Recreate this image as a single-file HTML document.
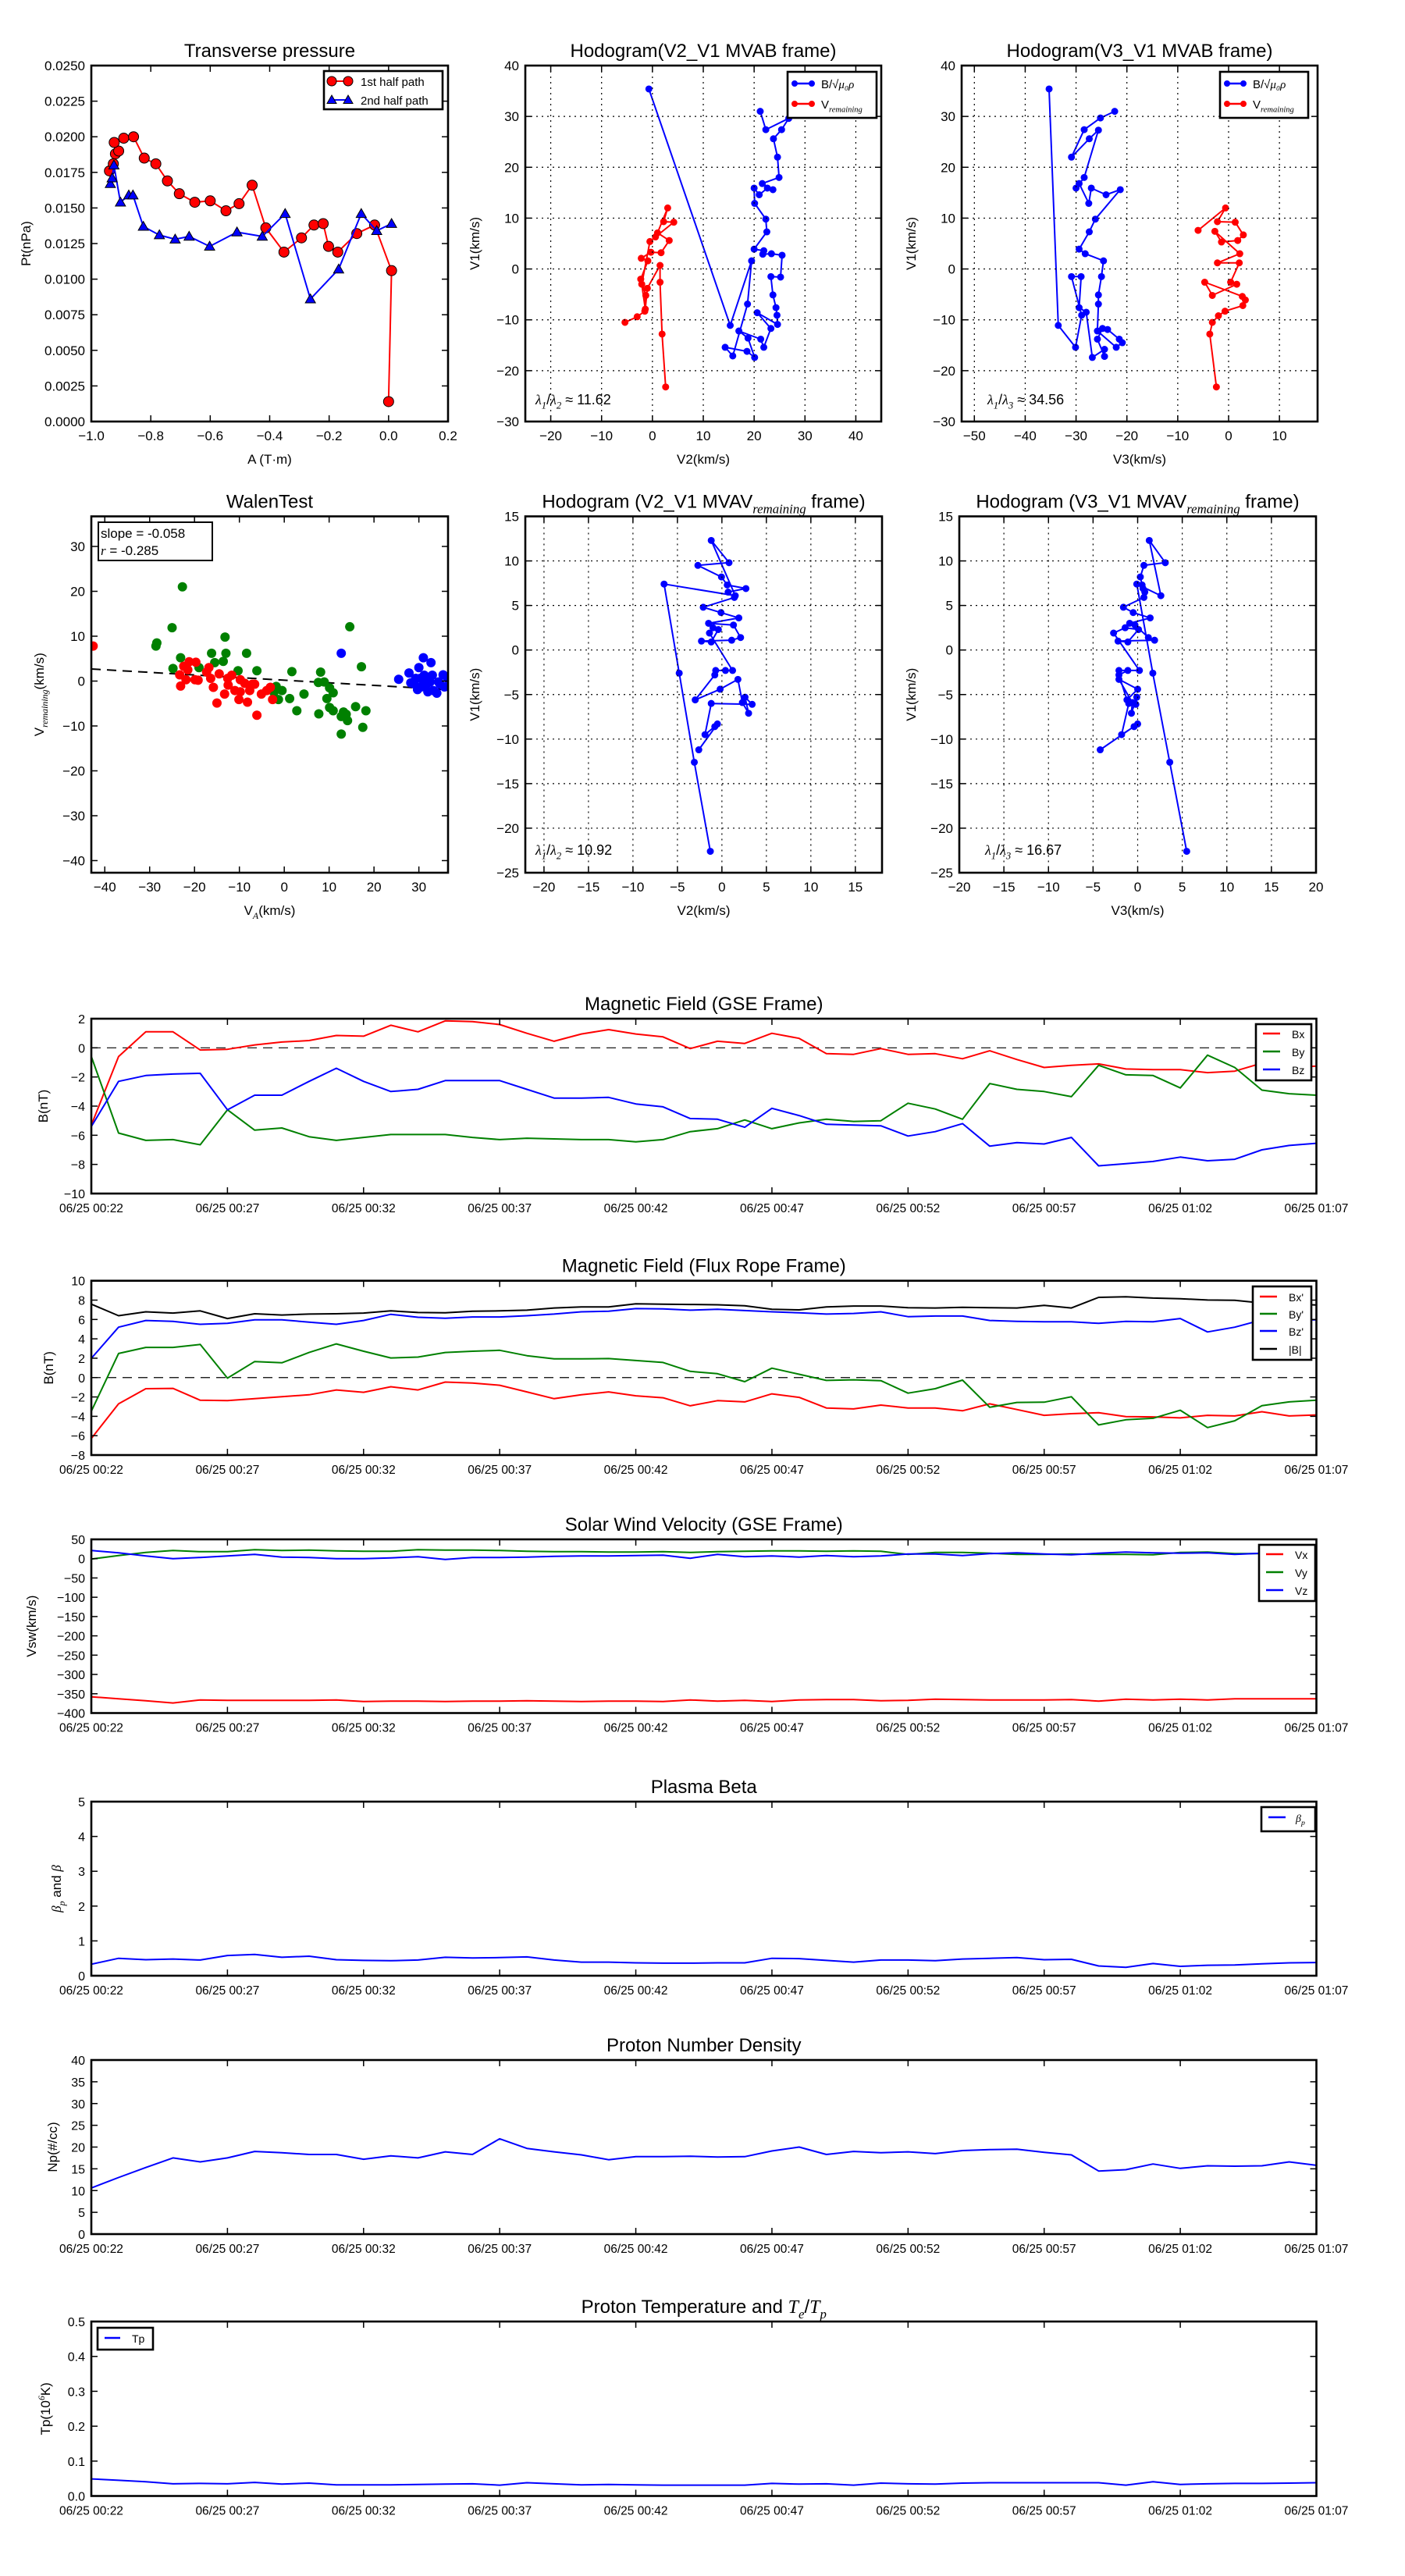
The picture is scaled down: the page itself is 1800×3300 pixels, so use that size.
<!DOCTYPE html>
<html><head><meta charset="utf-8"><title>Flux rope analysis</title>
<style>
html,body{margin:0;padding:0;background:#fff;}
svg{display:block;font-family:"Liberation Sans",sans-serif;}
</style></head>
<body>
<svg id="fig" xmlns="http://www.w3.org/2000/svg" width="1800" height="3300" viewBox="0 0 1800 3300">
<rect x="0" y="0" width="1800" height="3300" fill="#fff"/>
<defs id="defs"></defs>
</svg>
<script>
// ---------- data ----------
const tMin = [0,1,2,3,4,5,6,7,8,9,10,11,12,13,14,15,16,17,18,19,20,21,22,23,24,25,26,27,28,29,30,31,32,33,34,35,36,37,38,39,40,41,42,43,44,45];
const timeTicks = [0,5,10,15,20,25,30,35,40,45];
const timeTickLabels = ['06/25 00:22','06/25 00:27','06/25 00:32','06/25 00:37','06/25 00:42','06/25 00:47','06/25 00:52','06/25 00:57','06/25 01:02','06/25 01:07'];

const gseBx = [-5.3,-0.6,1.1,1.1,-0.15,-0.1,0.2,0.4,0.5,0.85,0.8,1.55,1.1,1.85,1.8,1.6,1.0,0.45,0.95,1.25,0.95,0.75,-0.05,0.45,0.3,1.0,0.65,-0.4,-0.45,-0.05,-0.45,-0.4,-0.75,-0.2,-0.8,-1.35,-1.2,-1.1,-1.45,-1.5,-1.5,-1.7,-1.6,-1.05,-1.35,-1.25];
const gseBy = [-0.6,-5.85,-6.35,-6.3,-6.65,-4.25,-5.65,-5.5,-6.1,-6.35,-6.15,-5.95,-5.95,-5.95,-6.15,-6.3,-6.2,-6.25,-6.3,-6.3,-6.45,-6.3,-5.75,-5.55,-4.95,-5.55,-5.15,-4.9,-5.05,-5.0,-3.8,-4.2,-4.9,-2.45,-2.85,-3.0,-3.35,-1.2,-1.85,-1.9,-2.75,-0.5,-1.35,-2.9,-3.15,-3.25];
const gseBz = [-5.4,-2.3,-1.9,-1.8,-1.75,-4.25,-3.25,-3.25,-2.3,-1.4,-2.3,-3.0,-2.85,-2.25,-2.25,-2.25,-2.85,-3.45,-3.45,-3.4,-3.85,-4.05,-4.85,-4.9,-5.45,-4.15,-4.65,-5.25,-5.3,-5.35,-6.05,-5.75,-5.2,-6.75,-6.5,-6.6,-6.15,-8.1,-7.95,-7.8,-7.5,-7.75,-7.65,-7.0,-6.7,-6.55];

const frBx = [-6.28,-2.71,-1.15,-1.12,-2.34,-2.38,-2.18,-1.98,-1.78,-1.28,-1.52,-0.95,-1.28,-0.46,-0.56,-0.79,-1.48,-2.18,-1.78,-1.48,-1.88,-2.08,-2.91,-2.38,-2.51,-1.68,-2.04,-3.14,-3.24,-2.84,-3.14,-3.14,-3.43,-2.71,-3.3,-3.9,-3.73,-3.63,-4.03,-4.06,-4.16,-3.9,-3.96,-3.53,-3.96,-3.86];
const frBy = [-3.47,2.49,3.12,3.12,3.42,-0.06,1.66,1.53,2.59,3.48,2.72,2.03,2.12,2.59,2.72,2.82,2.26,1.93,1.93,1.96,1.76,1.56,0.64,0.4,-0.42,0.97,0.34,-0.29,-0.23,-0.32,-1.61,-1.15,-0.26,-3.07,-2.57,-2.54,-1.98,-4.89,-4.36,-4.2,-3.37,-5.16,-4.46,-2.9,-2.51,-2.34];
const frBz = [1.99,5.2,5.9,5.8,5.5,5.6,5.96,5.96,5.73,5.5,5.9,6.53,6.23,6.13,6.26,6.26,6.39,6.56,6.79,6.86,7.12,7.09,6.96,7.05,6.92,6.79,6.69,6.56,6.62,6.79,6.29,6.36,6.36,5.9,5.8,5.76,5.76,5.6,5.8,5.76,6.1,4.71,5.2,5.96,5.96,5.96];
const frBmag = [7.58,6.39,6.79,6.66,6.89,6.1,6.59,6.46,6.56,6.59,6.66,6.89,6.72,6.69,6.86,6.89,6.96,7.19,7.29,7.29,7.62,7.58,7.55,7.52,7.42,7.05,6.99,7.29,7.39,7.39,7.22,7.19,7.25,7.22,7.19,7.45,7.19,8.28,8.35,8.21,8.15,8.01,7.98,7.7,7.6,7.5];

const vx = [-358,-363,-368,-374,-366,-367,-367,-367,-367,-366,-370,-369,-369,-370,-369,-369,-368,-369,-370,-369,-369,-370,-366,-369,-367,-370,-366,-365,-365,-368,-367,-364,-365,-366,-366,-366,-365,-369,-364,-366,-364,-366,-363,-363,-363,-363];
const vy = [-1,8,16,21,18,18,23,21,22,20,19,19,23,22,22,21,19,18,18,17,17,18,16,18,19,20,20,19,20,19,11,16,16,14,11,11,12,11,11,10,16,17,13,13,15,16];
const vz = [21,15,7,0,3,7,11,4,3,0,0,2,5,-2,3,3,4,6,7,7,8,9,1,11,5,7,4,8,5,7,12,12,8,13,15,12,10,14,17,15,14,15,11,14,15,15];

const betaP = [0.33,0.5,0.46,0.48,0.45,0.58,0.61,0.53,0.56,0.46,0.44,0.43,0.45,0.53,0.51,0.52,0.54,0.45,0.39,0.39,0.37,0.36,0.36,0.37,0.37,0.5,0.49,0.44,0.39,0.45,0.45,0.43,0.48,0.5,0.52,0.46,0.47,0.28,0.24,0.35,0.27,0.3,0.31,0.34,0.37,0.38];
const density = [10.6,13.0,15.3,17.5,16.6,17.5,19.0,18.7,18.3,18.3,17.2,18.0,17.5,18.9,18.3,21.9,19.7,18.9,18.2,17.1,17.8,17.8,17.9,17.7,17.8,19.1,20.0,18.3,19.0,18.7,18.9,18.5,19.2,19.4,19.5,18.8,18.2,14.5,14.8,16.1,15.1,15.7,15.6,15.7,16.6,15.8];
const tempP = [0.049,0.045,0.041,0.035,0.036,0.035,0.039,0.034,0.037,0.032,0.032,0.032,0.033,0.034,0.035,0.031,0.038,0.035,0.032,0.033,0.032,0.031,0.031,0.031,0.031,0.036,0.034,0.035,0.031,0.037,0.035,0.034,0.037,0.038,0.038,0.038,0.038,0.038,0.031,0.041,0.033,0.035,0.036,0.036,0.037,0.038];

const pt1A = [-0.939,-0.926,-0.919,-0.908,-0.923,-0.891,-0.858,-0.822,-0.783,-0.744,-0.704,-0.652,-0.6,-0.547,-0.503,-0.459,-0.413,-0.352,-0.293,-0.251,-0.22,-0.202,-0.171,-0.107,-0.047,0.01,0.0];
const pt1P = [0.0176,0.0181,0.0188,0.0190,0.0196,0.0199,0.0200,0.0185,0.0181,0.0169,0.0160,0.0154,0.0155,0.0148,0.0153,0.0166,0.0136,0.0119,0.0129,0.0138,0.0139,0.0123,0.0119,0.0132,0.0138,0.0106,0.0014];
const pt2A = [-0.936,-0.93,-0.924,-0.902,-0.874,-0.86,-0.825,-0.771,-0.718,-0.671,-0.602,-0.51,-0.425,-0.348,-0.263,-0.168,-0.092,-0.04,0.01];
const pt2P = [0.0167,0.0171,0.0180,0.0154,0.0159,0.0159,0.0137,0.0131,0.0128,0.0130,0.0123,0.0133,0.0130,0.0146,0.0086,0.0107,0.0146,0.0134,0.0139];

const h1BV2 = [-0.7,15.3,19.5,18.7,15.8,14.3,18.6,20.1,18.8,17.0,21.3,21.9,23.3,20.6,24.6,24.5,24.3,23.7,23.3,25.2,25.5,23.4,21.7,21.9,20.0,22.5,22.3,20.1,20.0,21.0,22.6,23.7,21.6,24.9,24.6,23.8,25.4,26.8,22.3,21.2];
const h1BV1 = [35.4,-11.1,1.6,-6.9,-17.1,-15.4,-16.2,-17.4,-13.6,-12.2,-13.8,-15.4,-11.7,-8.6,-10.9,-9.1,-7.6,-5.1,-1.5,-1.6,2.7,3.0,2.9,3.6,3.9,7.3,9.8,12.9,15.9,14.6,15.9,15.6,16.8,18.0,22.0,25.6,27.4,29.6,27.4,31.0];
const h1RV2 = [-5.4,-3.0,-1.5,-1.3,-2.3,-0.9,-2.2,-0.3,1.7,3.3,1.0,3.0,2.2,4.2,0.6,-0.5,-2.1,-1.4,-1.0,1.5,1.5,1.9,2.6];
const h1RV1 = [-10.5,-9.4,-8.3,-5.2,-2.0,1.6,2.1,3.3,3.2,5.6,7.1,12.0,9.3,9.2,6.3,5.4,-3.0,-7.9,-3.8,0.7,-2.6,-12.8,-23.2];
const h2BV3 = [-35.3,-33.5,-30.1,-28.9,-30.9,-29,-29.4,-28,-26.8,-24.4,-24.4,-25.8,-24.8,-23.8,-21.5,-20.9,-22.1,-25.8,-25.6,-25.6,-25,-24.6,-28.2,-29.4,-27.4,-26.2,-21.3,-24.1,-27,-27.5,-29.4,-30,-28.4,-25.6,-27.4,-30.9,-28.4,-25.2,-22.4];
const h2BV1 = [35.4,-11.1,-15.4,-9.1,-1.5,-1.5,-7.6,-8.5,-17.4,-15.8,-17.2,-13.8,-11.7,-11.9,-13.8,-14.5,-15.4,-12.2,-6.9,-5.1,-1.5,1.6,3.0,3.9,7.3,9.8,15.6,14.6,15.9,12.9,16.8,15.9,18,27.3,25.6,22,27.4,29.7,31.0];
const h2RV3 = [-6.0,-0.6,-2.2,1.3,2.9,1.8,-1.4,-2.7,2.2,-2.2,2.1,0.4,1.6,-3.2,-4.7,2.7,3.3,2.8,-0.7,-2.0,-3.2,-3.7,-2.4];
const h2RV1 = [7.6,12,9.3,9.2,6.7,5.6,5.3,7.4,3.0,1.2,1.2,-2.6,-3.0,-5.2,-2.6,-5.4,-6.1,-7.2,-8.3,-9.2,-10.5,-12.8,-23.2];

const mvV1 = [-22.6,-12.6,-2.6,7.4,6.1,12.3,9.8,9.5,8.2,7.3,6.9,6.5,5.9,4.8,4.2,3.6,3.0,2.8,1.4,1.1,1.0,0.9,2.3,2.5,1.9,-2.3,-2.3,-2.3,-2.8,-5.6,-4.4,-3.3,-5.9,-7.1,-5.3,-6.1,-6.0,-9.5,-8.6,-8.3,-11.2];
const mvV2 = [-1.3,-3.1,-4.8,-6.5,1.5,-1.2,0.8,-2.7,-0.05,0.6,2.7,0.7,1.4,-2.1,-0.1,1.9,-1.5,1.3,2.1,1.1,-2.3,-1.2,-0.4,-1.0,-1.4,1.2,0.4,-0.7,-0.8,-3.0,-0.2,1.8,2.3,3.0,2.6,3.4,-1.2,-1.9,-0.8,-0.5,-2.6];
const mvV3 = [5.5,3.6,1.7,-0.1,2.6,1.3,3.1,0.7,0.3,0.5,0.6,0.8,0.7,-1.6,-0.5,1.4,-0.9,-0.3,1.2,1.9,-2.2,-1.1,0.1,-1.4,-2.7,0.2,-2.1,-1.1,-2.1,-1.2,0.0,-2.1,-0.6,-0.7,-0.1,-0.2,-1.0,-1.8,-0.4,0.0,-4.2];

const walGreenVA = [-22.7,-25.0,-28.4,-28.6,-23.1,-24.8,-19.0,-16.2,-15.5,-13.2,-13.0,-13.6,-10.3,-8.4,-6.1,-1.8,-0.5,-1.3,1.2,-2.3,1.7,2.8,4.4,8.1,7.6,8.9,9.5,10.1,10.9,7.7,10.1,10.9,12.7,13.2,13.8,14.1,12.7,14.6,15.9,17.2,17.5,18.2];
const walGreenVR = [21.0,11.9,8.5,7.8,5.2,2.8,3.0,6.2,4.1,9.8,6.2,4.4,2.3,6.2,2.3,-1.2,-2.1,-4.1,-3.9,-2.5,2.1,-6.6,-2.9,2.0,-0.3,-0.2,-3.9,-1.5,-2.6,-7.3,-5.9,-6.6,-7.9,-6.9,-7.4,-8.8,-11.8,12.1,-5.7,3.2,-10.3,-6.6];
const walRedVA = [-42.6,-23.3,-23.1,-22.4,-21.5,-21.2,-19.7,-21.9,-19.9,-19.2,-17.3,-16.8,-16.4,-15.8,-15.0,-14.5,-13.3,-12.6,-12.5,-11.7,-11.0,-10.1,-9.8,-9.8,-8.8,-8.2,-7.7,-7.1,-6.6,-6.1,-5.1,-3.9,-3.1,-2.6];
const walRedVR = [7.8,1.4,-1.1,3.3,2.5,4.3,4.2,0.3,0.3,0.2,2.0,3.0,0.6,-1.4,-4.9,1.6,-2.9,0.6,-0.9,1.3,-2.1,-4.1,0.3,-2.4,-0.5,-4.7,-2.1,-0.7,-0.7,-7.6,-2.9,-2.1,-1.4,-4.1];
const walBlueVA = [12.7,25.5,27.8,28.2,29.7,30.0,30.3,31.0,31.2,31.7,32.0,32.7,33.0,33.2,34.0,34.4,35.4,35.7,36.4,34.7,29.3,28.9,30.5,32.5,31.6];
const walBlueVR = [6.2,0.4,1.8,-0.4,-1.9,3.0,0.6,5.2,1.3,-0.7,-2.4,4.1,1.3,-2.1,-2.7,-0.2,1.4,-1.3,0.6,-0.7,0.6,-0.6,-1.3,-0.2,0.3];
const walenSlope = -0.058;
const walenIntercept = 0.2;

// ---------- helpers ----------
const NS = 'http://www.w3.org/2000/svg';
const svg = document.getElementById('fig');
const defs = document.getElementById('defs');
const MINUS = '\u2212';
function mk(tag, attrs, parent){
  const e = document.createElementNS(NS, tag);
  for (const k in attrs) e.setAttribute(k, attrs[k]);
  (parent || svg).appendChild(e);
  return e;
}
function fmt(v, d){ const s = Math.abs(v).toFixed(d); return (v < 0 ? MINUS : '') + s; }
let clipId = 0;

function makeAxes(name, box, xd, yd){
  const g = mk('g', {});
  
  
  const sx = v => box.x0 + (v - xd[0]) / (xd[1] - xd[0]) * (box.x1 - box.x0);
  const sy = v => box.y1 - (v - yd[0]) / (yd[1] - yd[0]) * (box.y1 - box.y0);
  clipId++;
  const cp = mk('clipPath', {id: 'clip' + clipId}, defs);
  mk('rect', {x: box.x0, y: box.y0, width: box.x1 - box.x0, height: box.y1 - box.y0}, cp);
  const data = mk('g', {'clip-path': 'url(#clip' + clipId + ')'}, g);
  
  
  return {g, data, sx, sy, box};
}
function drawFrame(ax){
  const b = ax.box;
  const r = mk('rect', {x: b.x0, y: b.y0, width: b.x1 - b.x0, height: b.y1 - b.y0, fill: 'none', stroke: '#000', 'stroke-width': 2.6}, ax.g);
  
  
}
function xTicks(ax, vals, labels, grid, fs){
  const b = ax.box;
  vals.forEach((v, i) => {
    const x = ax.sx(v);
    if (grid) {
      const gl = mk('line', {x1: x, x2: x, y1: b.y0, y2: b.y1, stroke: '#000', 'stroke-width': 1.2, 'stroke-dasharray': '2,5'}, ax.g);
      
      
    }
    const t1 = mk('line', {x1: x, x2: x, y1: b.y1, y2: b.y1 - 8, stroke: '#000', 'stroke-width': 1.5}, ax.g);
    
    
    const t2 = mk('line', {x1: x, x2: x, y1: b.y0, y2: b.y0 + 8, stroke: '#000', 'stroke-width': 1.5}, ax.g);
    
    
    const lb = mk('text', {x: x, y: b.y1 + 24, 'text-anchor': 'middle', 'font-size': fs || 17}, ax.g);
    lb.textContent = labels[i];
    
    
  });
}
function yTicks(ax, vals, labels, grid, fs){
  const b = ax.box;
  vals.forEach((v, i) => {
    const y = ax.sy(v);
    if (grid) {
      const gl = mk('line', {x1: b.x0, x2: b.x1, y1: y, y2: y, stroke: '#000', 'stroke-width': 1.2, 'stroke-dasharray': '2,5'}, ax.g);
      
      
    }
    const t1 = mk('line', {x1: b.x0, x2: b.x0 + 8, y1: y, y2: y, stroke: '#000', 'stroke-width': 1.5}, ax.g);
    
    
    const t2 = mk('line', {x1: b.x1, x2: b.x1 - 8, y1: y, y2: y, stroke: '#000', 'stroke-width': 1.5}, ax.g);
    
    
    const lb = mk('text', {x: b.x0 - 8, y: y + 6, 'text-anchor': 'end', 'font-size': fs || 17}, ax.g);
    lb.textContent = labels[i];
    
    
  });
}
// parts: strings or {t, sub, sup, it}; offsets computed in px from base font size
function addParts(t, parts, fs){
  if (typeof parts === 'string') { t.textContent = parts; return; }
  let cur = 0;
  parts.forEach(p => {
    const s = mk('tspan', {}, t);
    let target = 0;
    if (typeof p === 'string') { s.textContent = p; }
    else {
      s.textContent = p.t;
      if (p.sub || p.sup) {
        s.setAttribute('font-size', (fs * 0.7).toFixed(1));
        s.setAttribute('font-style', 'italic');
        s.setAttribute('font-family', '"Liberation Serif",serif');
        target = p.sup ? -0.4 * fs : 0.3 * fs;
      }
      if (p.it) { s.setAttribute('font-style', 'italic'); s.setAttribute('font-family', '"Liberation Serif",serif'); }
    }
    const d = target - cur;
    if (Math.abs(d) > 0.01) s.setAttribute('dy', d.toFixed(1));
    cur = target;
  });
}
function title(ax, parts, fs){
  fs = fs || 24;
  const b = ax.box;
  const t = mk('text', {x: (b.x0 + b.x1) / 2, y: b.y0 - 11, 'text-anchor': 'middle', 'font-size': fs}, ax.g);
  addParts(t, parts, fs);
  
  
}
function xLabel(ax, parts, dy){
  const b = ax.box;
  const t = mk('text', {x: (b.x0 + b.x1) / 2, y: b.y1 + (dy || 54), 'text-anchor': 'middle', 'font-size': 17}, ax.g);
  addParts(t, parts, 17);
  
  
}
function yLabel(ax, parts, cx){
  const b = ax.box;
  const cy = (b.y0 + b.y1) / 2;
  const t = mk('text', {x: cx, y: cy + 6, 'text-anchor': 'middle', 'font-size': 17, transform: 'rotate(-90 ' + cx + ' ' + cy + ')'}, ax.g);
  addParts(t, parts, 17);
  
  
}
function series(ax, xs, ys, color, name, opts){
  opts = opts || {};
  const pts = xs.map((x, i) => ax.sx(x).toFixed(1) + ',' + ax.sy(ys[i]).toFixed(1)).join(' ');
  const pl = mk('polyline', {points: pts, fill: 'none', stroke: color, 'stroke-width': opts.w || 2, 'stroke-linejoin': 'round'}, ax.data);
  
  
  if (opts.marker) {
    xs.forEach((x, i) => {
      const cx = ax.sx(x), cy = ax.sy(ys[i]);
      let m;
      if (opts.marker === 'tri') {
        const r = opts.r;
        m = mk('polygon', {points: cx + ',' + (cy - r) + ' ' + (cx - r) + ',' + (cy + r * 0.75) + ' ' + (cx + r) + ',' + (cy + r * 0.75), fill: color, stroke: '#000', 'stroke-width': 1}, ax.data);
      } else {
        m = mk('circle', {cx: cx, cy: cy, r: opts.r, fill: color, stroke: opts.edge || color, 'stroke-width': 1}, ax.data);
      }
      
      
    });
  }
}
function legend(ax, x0, y0, w, h, entries, fs, markerKind){
  fs = fs || 16;
  const lg = mk('g', {}, ax.g);
  
  
  const r = mk('rect', {x: x0, y: y0, width: w, height: h, fill: '#fff', stroke: '#000', 'stroke-width': 2.6}, lg);
  
  
  entries.forEach(en => {
    const ln = mk('line', {x1: en.lx0, x2: en.lx1, y1: en.y, y2: en.y, stroke: en.color, 'stroke-width': en.w || 2.5}, lg);
    
    
    if (en.marker) {
      [en.lx0, en.lx1].forEach(mx => {
        let m;
        if (en.marker === 'tri') m = mk('polygon', {points: mx + ',' + (en.y - en.r) + ' ' + (mx - en.r) + ',' + (en.y + en.r * 0.75) + ' ' + (mx + en.r) + ',' + (en.y + en.r * 0.75), fill: en.color, stroke: '#000'}, lg);
        else m = mk('circle', {cx: mx, cy: en.y, r: en.r, fill: en.color, stroke: en.edge || en.color}, lg);
        
        
      });
    }
    const t = mk('text', {x: en.tx, y: en.y + 6, 'font-size': fs}, lg);
    addParts(t, en.label, fs);
    
    
  });
}
function rangeTicks(a, b, step){ const out = []; for (let v = a; v <= b + 1e-9; v += step) out.push(Math.round(v / step) * step); return out; }
function annot(ax, x, y, parts, fs){
  fs = fs || 19;
  const t = mk('text', {x: x, y: y, 'font-size': fs}, ax.g);
  addParts(t, parts, fs);
  
  
}
function lamParts(a, b, val){ return [{t: '\u03bb', it: true}, {t: a, sub: true}, '/', {t: '\u03bb', it: true}, {t: b, sub: true}, ' \u2248 ' + val]; }

// ---------- Transverse pressure ----------
(function(){
  const ax = makeAxes('transverse-pressure-chart', {x0: 117, x1: 574, y0: 84, y1: 540}, [-1, 0.2], [0, 0.025]);
  const yt = rangeTicks(0, 0.025, 0.0025);
  yTicks(ax, yt, yt.map(v => v.toFixed(4)), false);
  const xt = rangeTicks(-1, 0.2, 0.2);
  xTicks(ax, xt, xt.map(v => fmt(v, 1)), false);
  series(ax, pt1A, pt1P, '#ff0000', 'first-half-path', {marker: 'circle', r: 6.5, edge: '#000'});
  series(ax, pt2A, pt2P, '#0000ff', 'second-half-path', {marker: 'tri', r: 6.5});
  drawFrame(ax);
  title(ax, 'Transverse pressure');
  xLabel(ax, 'A (T\u00b7m)');
  yLabel(ax, 'Pt(nPa)', 33);
  legend(ax, 415, 91, 152, 49, [
    {lx0: 425, lx1: 446, y: 104, color: '#ff0000', marker: 'circle', r: 6, edge: '#000', tx: 462, label: '1st half path', w: 2},
    {lx0: 425, lx1: 446, y: 128, color: '#0000ff', marker: 'tri', r: 6, tx: 462, label: '2nd half path', w: 2}
  ], 15);
})();

const hodoLegendB = ['B/\u221a', {t: '\u03bc\u2080\u03c1', it: true}];
const hodoLegendV = ['V', {t: 'remaining', sub: true}];

// ---------- Hodogram V2_V1 MVAB ----------
(function(){
  const ax = makeAxes('hodogram-v2-v1-mvab-chart', {x0: 673, x1: 1129, y0: 84, y1: 540}, [-25, 45], [-30, 40]);
  const xt = rangeTicks(-20, 40, 10);
  xTicks(ax, xt, xt.map(v => fmt(v, 0)), true);
  const yt = rangeTicks(-30, 40, 10);
  yTicks(ax, yt, yt.map(v => fmt(v, 0)), true);
  series(ax, h1BV2, h1BV1, '#0000ff', 'b-alfven-hodogram', {marker: 'circle', r: 4});
  series(ax, h1RV2, h1RV1, '#ff0000', 'v-remaining-hodogram', {marker: 'circle', r: 4});
  drawFrame(ax);
  title(ax, 'Hodogram(V2_V1 MVAB frame)');
  xLabel(ax, 'V2(km/s)');
  yLabel(ax, 'V1(km/s)', 608);
  annot(ax, 686, 518, lamParts('1', '2', '11.62'), 18);
  legend(ax, 1009, 92, 114, 59, [
    {lx0: 1018, lx1: 1040, y: 107, color: '#0000ff', marker: 'circle', r: 3.5, tx: 1052, label: hodoLegendB},
    {lx0: 1018, lx1: 1040, y: 133, color: '#ff0000', marker: 'circle', r: 3.5, tx: 1052, label: hodoLegendV}
  ], 15);
})();

// ---------- Hodogram V3_V1 MVAB ----------
(function(){
  const ax = makeAxes('hodogram-v3-v1-mvab-chart', {x0: 1232, x1: 1688, y0: 84, y1: 540}, [-52.5, 17.5], [-30, 40]);
  const xt = rangeTicks(-50, 10, 10);
  xTicks(ax, xt, xt.map(v => fmt(v, 0)), true);
  const yt = rangeTicks(-30, 40, 10);
  yTicks(ax, yt, yt.map(v => fmt(v, 0)), true);
  series(ax, h2BV3, h2BV1, '#0000ff', 'b-alfven-hodogram', {marker: 'circle', r: 4});
  series(ax, h2RV3, h2RV1, '#ff0000', 'v-remaining-hodogram', {marker: 'circle', r: 4});
  drawFrame(ax);
  title(ax, 'Hodogram(V3_V1 MVAB frame)');
  xLabel(ax, 'V3(km/s)');
  yLabel(ax, 'V1(km/s)', 1167);
  annot(ax, 1265, 518, lamParts('1', '3', '34.56'), 18);
  legend(ax, 1563, 92, 113, 59, [
    {lx0: 1572, lx1: 1593, y: 107, color: '#0000ff', marker: 'circle', r: 3.5, tx: 1605, label: hodoLegendB},
    {lx0: 1572, lx1: 1593, y: 133, color: '#ff0000', marker: 'circle', r: 3.5, tx: 1605, label: hodoLegendV}
  ], 15);
})();

// ---------- Walen test ----------
(function(){
  const ax = makeAxes('walen-test-chart', {x0: 117, x1: 574, y0: 661.5, y1: 1118}, [-43, 36.5], [-42.7, 36.7]);
  const xt = rangeTicks(-40, 30, 10);
  xTicks(ax, xt, xt.map(v => fmt(v, 0)), false);
  const yt = rangeTicks(-40, 30, 10);
  yTicks(ax, yt, yt.map(v => fmt(v, 0)), false);
  const fit = mk('line', {x1: ax.sx(-43), y1: ax.sy(walenIntercept + walenSlope * -43), x2: ax.sx(36.5), y2: ax.sy(walenIntercept + walenSlope * 36.5), stroke: '#000', 'stroke-width': 2, 'stroke-dasharray': '12,8'}, ax.data);
  
  
  [[walGreenVA, walGreenVR, '#008000', 'green'], [walRedVA, walRedVR, '#ff0000', 'red'], [walBlueVA, walBlueVR, '#0000ff', 'blue']].forEach(s => {
    s[0].forEach((v, i) => {
      const c = mk('circle', {cx: ax.sx(v), cy: ax.sy(s[1][i]), r: 6, fill: s[2]}, ax.data);
      
      
    });
  });
  drawFrame(ax);
  title(ax, 'WalenTest');
  xLabel(ax, ['V', {t: 'A', sub: true}, '(km/s)']);
  yLabel(ax, ['V', {t: 'remaining', sub: true}, '(km/s)'], 50);
  const bx = mk('rect', {x: 126, y: 669, width: 146, height: 49, fill: '#fff', stroke: '#000', 'stroke-width': 2}, ax.g);
  
  
  const t1 = mk('text', {x: 129, y: 689, 'font-size': 17}, ax.g);
  t1.textContent = 'slope = -0.058';
  
  
  const t2 = mk('text', {x: 129, y: 711, 'font-size': 17}, ax.g);
  addParts(t2, [{t: 'r', it: true}, ' = -0.285'], 17);
  
  
})();

// ---------- Hodogram V2_V1 MVAV ----------
(function(){
  const ax = makeAxes('hodogram-v2-v1-mvav-chart', {x0: 673, x1: 1130, y0: 661.5, y1: 1118}, [-22.1, 18], [-25, 15]);
  const xt = rangeTicks(-20, 15, 5);
  xTicks(ax, xt, xt.map(v => fmt(v, 0)), true);
  const yt = rangeTicks(-25, 15, 5);
  yTicks(ax, yt, yt.map(v => fmt(v, 0)), true);
  series(ax, mvV2, mvV1, '#0000ff', 'mvav-hodogram', {marker: 'circle', r: 4});
  drawFrame(ax);
  title(ax, ['Hodogram (V2_V1 MVAV', {t: 'remaining', sub: true}, ' frame)']);
  xLabel(ax, 'V2(km/s)');
  yLabel(ax, 'V1(km/s)', 608);
  annot(ax, 686, 1095, lamParts('1', '2', '10.92'), 18);
})();

// ---------- Hodogram V3_V1 MVAV ----------
(function(){
  const ax = makeAxes('hodogram-v3-v1-mvav-chart', {x0: 1229, x1: 1686, y0: 661.5, y1: 1118}, [-20, 20], [-25, 15]);
  const xt = rangeTicks(-20, 20, 5);
  xTicks(ax, xt, xt.map(v => fmt(v, 0)), true);
  const yt = rangeTicks(-25, 15, 5);
  yTicks(ax, yt, yt.map(v => fmt(v, 0)), true);
  series(ax, mvV3, mvV1, '#0000ff', 'mvav-hodogram', {marker: 'circle', r: 4});
  drawFrame(ax);
  title(ax, ['Hodogram (V3_V1 MVAV', {t: 'remaining', sub: true}, ' frame)']);
  xLabel(ax, 'V3(km/s)');
  yLabel(ax, 'V1(km/s)', 1167);
  annot(ax, 1262, 1095, lamParts('1', '3', '16.67'), 18);
})();

// ---------- time series ----------
function timeAxes(name, y0, y1, yd, yt, ylab, ylx, ttl, dec){
  const ax = makeAxes(name, {x0: 117, x1: 1686.5, y0: y0, y1: y1}, [0, 45], yd);
  xTicks(ax, timeTicks, timeTickLabels, false, 15.5);
  yTicks(ax, yt, yt.map(v => fmt(v, dec)), false, 16);
  title(ax, ttl);
  yLabel(ax, ylab, ylx);
  return ax;
}
function zeroLine(ax){
  const z = mk('line', {x1: ax.box.x0, x2: ax.box.x1, y1: ax.sy(0), y2: ax.sy(0), stroke: '#000', 'stroke-width': 1.2, 'stroke-dasharray': '12,8'}, ax.data);
  
  
}

(function(){
  const ax = timeAxes('magnetic-field-gse-chart', 1305, 1529, [-10, 2], rangeTicks(-10, 2, 2), 'B(nT)', 55, 'Magnetic Field (GSE Frame)', 0);
  zeroLine(ax);
  series(ax, tMin, gseBx, '#ff0000', 'bx-line');
  series(ax, tMin, gseBy, '#008000', 'by-line');
  series(ax, tMin, gseBz, '#0000ff', 'bz-line');
  drawFrame(ax);
  legend(ax, 1609, 1312, 71, 72, [
    {lx0: 1618, lx1: 1640, y: 1324, color: '#ff0000', tx: 1655, label: 'Bx'},
    {lx0: 1618, lx1: 1640, y: 1347, color: '#008000', tx: 1655, label: 'By'},
    {lx0: 1618, lx1: 1640, y: 1370, color: '#0000ff', tx: 1655, label: 'Bz'}
  ], 14);
})();

(function(){
  const ax = timeAxes('magnetic-field-flux-rope-chart', 1640.7, 1864, [-8, 10], rangeTicks(-8, 10, 2), 'B(nT)', 62, 'Magnetic Field (Flux Rope Frame)', 0);
  zeroLine(ax);
  series(ax, tMin, frBx, '#ff0000', 'bx-prime-line');
  series(ax, tMin, frBy, '#008000', 'by-prime-line');
  series(ax, tMin, frBz, '#0000ff', 'bz-prime-line');
  series(ax, tMin, frBmag, '#000000', 'b-magnitude-line');
  drawFrame(ax);
  legend(ax, 1605, 1648, 75, 94, [
    {lx0: 1614, lx1: 1636, y: 1661, color: '#ff0000', tx: 1651, label: "Bx'"},
    {lx0: 1614, lx1: 1636, y: 1683, color: '#008000', tx: 1651, label: "By'"},
    {lx0: 1614, lx1: 1636, y: 1705, color: '#0000ff', tx: 1651, label: "Bz'"},
    {lx0: 1614, lx1: 1636, y: 1728, color: '#000000', tx: 1651, label: '|B|'}
  ], 14);
})();

(function(){
  const ax = timeAxes('solar-wind-velocity-chart', 1972, 2194.5, [-400, 50], rangeTicks(-400, 50, 50), 'Vsw(km/s)', 40, 'Solar Wind Velocity (GSE Frame)', 0);
  series(ax, tMin, vx, '#ff0000', 'vx-line');
  series(ax, tMin, vy, '#008000', 'vy-line');
  series(ax, tMin, vz, '#0000ff', 'vz-line');
  drawFrame(ax);
  legend(ax, 1613, 1979, 72, 72, [
    {lx0: 1622, lx1: 1644, y: 1991, color: '#ff0000', tx: 1659, label: 'Vx'},
    {lx0: 1622, lx1: 1644, y: 2014, color: '#008000', tx: 1659, label: 'Vy'},
    {lx0: 1622, lx1: 1644, y: 2037, color: '#0000ff', tx: 1659, label: 'Vz'}
  ], 14);
})();

(function(){
  const ax = timeAxes('plasma-beta-chart', 2308, 2531, [0, 5], rangeTicks(0, 5, 1), [{t: '\u03b2', it: true}, {t: 'p', sub: true}, ' and ', {t: '\u03b2', it: true}], 72, 'Plasma Beta', 0);
  series(ax, tMin, betaP, '#0000ff', 'beta-p-line');
  drawFrame(ax);
  legend(ax, 1616, 2315, 69, 31, [
    {lx0: 1625, lx1: 1647, y: 2328, color: '#0000ff', tx: 1660, label: [{t: '\u03b2', it: true}, {t: 'p', sub: true}]}
  ], 14);
})();

(function(){
  const ax = timeAxes('proton-density-chart', 2639, 2862, [0, 40], rangeTicks(0, 40, 5), 'Np(#/cc)', 67, 'Proton Number Density', 0);
  series(ax, tMin, density, '#0000ff', 'density-line');
  drawFrame(ax);
})();

(function(){
  const ax = timeAxes('proton-temperature-chart', 2974, 3197.5, [0, 0.5], rangeTicks(0, 0.5, 0.1), ['Tp(10', {t: '6', sup: true}, 'K)'], 58, ['Proton Temperature and ', {t: 'T', it: true}, {t: 'e', sub: true}, '/', {t: 'T', it: true}, {t: 'p', sub: true}], 1);
  series(ax, tMin, tempP, '#0000ff', 'temperature-line');
  drawFrame(ax);
  legend(ax, 125, 2982, 71, 28, [
    {lx0: 134, lx1: 154, y: 2995, color: '#0000ff', tx: 169, label: 'Tp'}
  ], 14);
})();
</script>
</body></html>
